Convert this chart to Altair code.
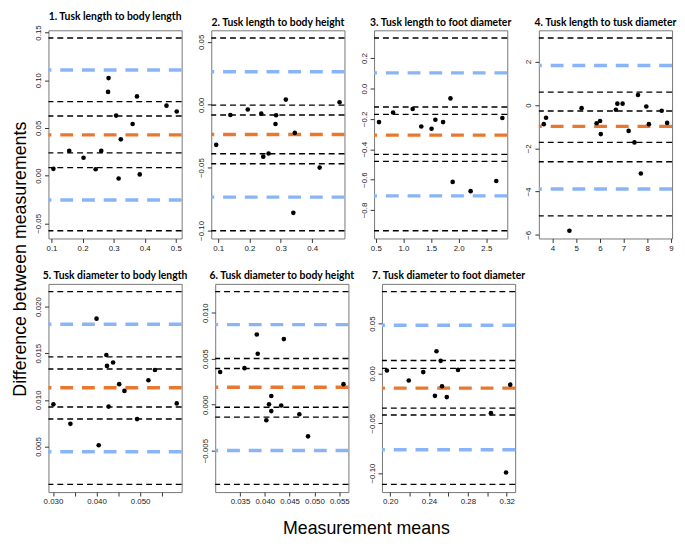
import altair as alt
import pandas as pd

# ---------------- data ----------------
titles = [
    "1. Tusk length to body length",
    "2. Tusk length to body height",
    "3. Tusk length to foot diameter",
    "4. Tusk length to tusk diameter",
    "5. Tusk diameter to body length",
    "6. Tusk diameter to body height",
    "7. Tusk diameter to foot diameter",
]

p1_x = [0.106, 0.157, 0.203, 0.242, 0.260, 0.2835, 0.282, 0.308, 0.323, 0.316, 0.361, 0.375, 0.384, 0.470, 0.503]
p1_y = [0.0071, 0.0259, 0.0188, 0.0067, 0.0259, 0.1022, 0.0877, 0.0629, 0.038, -0.003, 0.0541, 0.083, 0.0013, 0.0733, 0.0672]

p2_x = [0.0938, 0.139, 0.1946, 0.2377, 0.285, 0.283, 0.316, 0.244, 0.261, 0.3446, 0.340, 0.424, 0.4875]
p2_y = [-0.0319, -0.0082, -0.0038, -0.0071, -0.0084, -0.0153, 0.0041, -0.0413, -0.0388, -0.0224, -0.086, -0.050, 0.002]

p3_x = [0.558, 0.813, 1.167, 1.323, 1.509, 1.578, 1.717, 1.851, 1.891, 2.216, 2.68, 2.79]
p3_y = [-0.221, -0.158, -0.135, -0.2505, -0.265, -0.206, -0.221, -0.065, -0.615, -0.676, -0.609, -0.194]

p4_x = [3.635, 3.73, 5.23, 5.865, 6.01, 6.04, 6.676, 6.74, 6.96, 7.216, 7.46, 7.61, 7.73, 7.96, 8.07, 8.61, 8.84, 4.716]
p4_y = [-0.888, -0.59, -0.148, -0.843, -0.74, -1.346, -0.222, 0.059, 0.059, -1.198, -1.73, 0.459, -3.166, -0.074, -0.888, -0.266, -0.828, -5.81]

p5_x = [0.0301, 0.034, 0.040, 0.0405, 0.04225, 0.0424, 0.04277, 0.0438, 0.0452, 0.0464, 0.0493, 0.0519, 0.0534, 0.0584]
p5_y = [0.00952, 0.00743, 0.0187, 0.00513, 0.0148, 0.01364, 0.00928, 0.0140, 0.01168, 0.01096, 0.00794, 0.0121, 0.0132, 0.00962]

p6_x = [0.031, 0.0359, 0.03838, 0.03857, 0.04383, 0.0413, 0.04084, 0.0413, 0.0403, 0.0433, 0.04695, 0.0487, 0.05584]
p6_y = [0.00355, 0.00397, 0.00762, 0.00553, 0.00713, 0.00094, 0.00003, -0.0007, -0.0017, -0.0001, -0.00104, -0.00345, 0.00223]

p7_x = [0.1967, 0.2192, 0.2341, 0.2461, 0.2477, 0.252, 0.2534, 0.2583, 0.2699, 0.3037, 0.3193, 0.3236]
p7_y = [0.0029, -0.0071, 0.0013, -0.0225, 0.0222, 0.0126, -0.0129, -0.0238, 0.0035, -0.0399, -0.0995, -0.0113]

# bias (mean difference) per panel
means = [0.0427, -0.0237, -0.307, -0.99, 0.0113, 0.00188, -0.0148]
# limits of agreement [lower, upper]
loas = [[-0.0255, 0.1106], [-0.0735, 0.0263], [-0.707, 0.103], [-3.88, 1.82],
        [0.00444, 0.0181], [-0.00498, 0.0087], [-0.0766, 0.0483]]
# confidence intervals: mean CI, upper-LoA CI, lower-LoA CI (black dashed)
mean_ci = [[0.0239, 0.0625], [-0.039, -0.0082], [-0.4337, -0.1705], [-1.73, -0.28],
           [0.00924, 0.0133], [-0.00028, 0.00393], [-0.0348, 0.0051]]
upper_ci = [[0.0776, 0.1442], [-0.0003, 0.0531], [-0.122, 0.3326], [0.59, 3.09],
            [0.0146, 0.0216], [0.00501, 0.01229], [0.0129, 0.0821]]
lower_ci = [[-0.0578, 0.0084], [-0.1003, -0.0469], [-0.937, -0.48], [-5.12, -2.62],
            [0.00094, 0.00794], [-0.00867, -0.00136], [-0.1114, -0.0418]]

# axis ticks
x_ticks = [
    [0.1, 0.2, 0.3, 0.4, 0.5],
    [0.1, 0.2, 0.3, 0.4],
    [0.5, 1.0, 1.5, 2.0, 2.5],
    [4, 5, 6, 7, 8, 9],
    [0.030, 0.035, 0.040, 0.045, 0.050, 0.055],
    [0.035, 0.040, 0.045, 0.050, 0.055],
    [0.20, 0.22, 0.24, 0.26, 0.28, 0.30, 0.32],
]
x_labels_shown = [None, None, None, None, ["0.030", "0.040", "0.050"], None, ["0.20", "0.24", "0.28", "0.32"]]
x_formats = [".1f", ".1f", ".1f", "d", ".3f", ".3f", ".2f"]
y_ticks = [
    [-0.05, 0.0, 0.05, 0.10, 0.15],
    [-0.10, -0.05, 0.0, 0.05],
    [-0.8, -0.6, -0.4, -0.2, 0.0, 0.2],
    [-6, -4, -2, 0, 2],
    [0.005, 0.010, 0.015, 0.020],
    [-0.005, 0.0, 0.005, 0.010],
    [-0.10, -0.05, 0.0, 0.05],
]
y_formats = [".2f", ".2f", ".1f", "d", ".3f", ".3f", ".2f"]

xs_all = [p1_x, p2_x, p3_x, p4_x, p5_x, p6_x, p7_x]
ys_all = [p1_y, p2_y, p3_y, p4_y, p5_y, p6_y, p7_y]

BLUE = "#8AB4F8"
ORANGE = "#E8782F"
W, H = 135, 211


def padded(lo, hi):
    span = hi - lo
    return [lo - 0.04 * span, hi + 0.04 * span]


def panel(i):
    xs, ys = xs_all[i], ys_all[i]
    black_vals = mean_ci[i] + upper_ci[i] + lower_ci[i]
    all_y = ys + black_vals + loas[i] + [means[i]]
    xdom = padded(min(xs), max(xs))
    ydom = padded(min(all_y), max(all_y))

    shown = x_labels_shown[i]
    xaxis_kwargs = dict(values=x_ticks[i], format=x_formats[i], labelOverlap=False, labelFlush=False)
    if shown is not None:
        expr = "indexof([" + ",".join("'%s'" % s for s in shown) + "], datum.label) >= 0 ? datum.label : ''"
        xaxis_kwargs["labelExpr"] = expr
    xenc = alt.X("x:Q", title=None, scale=alt.Scale(domain=xdom, nice=False, zero=False),
                 axis=alt.Axis(**xaxis_kwargs))
    yaxis = alt.Axis(values=y_ticks[i], format=y_formats[i], labelAngle=270, labelAlign="center",
                     labelBaseline="bottom", labelOverlap=False, labelFlush=False)
    yscale = alt.Scale(domain=ydom, nice=False, zero=False)

    def yenc():
        return alt.Y("y:Q", title=None, scale=yscale, axis=yaxis)

    df_pts = pd.DataFrame({"x": xs, "y": ys})
    df_black = pd.DataFrame({"y": black_vals})
    df_blue = pd.DataFrame({"y": loas[i]})
    df_orange = pd.DataFrame({"y": [means[i]]})

    black = alt.Chart(df_black).mark_rule(color="black", strokeWidth=1.4, strokeDash=[6, 4]).encode(y=yenc())
    blue = alt.Chart(df_blue).mark_rule(color=BLUE, strokeWidth=3.5, strokeDash=[13, 9]).encode(y=yenc())
    orange = alt.Chart(df_orange).mark_rule(color=ORANGE, strokeWidth=3.5, strokeDash=[13, 9]).encode(y=yenc())
    pts = alt.Chart(df_pts).mark_circle(color="black", size=22, opacity=1).encode(x=xenc, y=yenc())

    return alt.layer(black, blue, orange, pts).properties(
        width=W, height=H,
        title=alt.TitleParams(titles[i], font="Lato", fontSize=10.5, fontWeight="bold",
                              anchor="middle", offset=2, color="black"),
    )


row1 = alt.hconcat(*[panel(i) for i in range(4)], spacing=12)
row2 = alt.hconcat(*[panel(i) for i in range(4, 7)], spacing=12)

grid = alt.vconcat(row1, row2, spacing=18).properties(
    title=alt.TitleParams("Difference between measurements", orient="left", anchor="middle",
                          font="Liberation Sans", fontSize=18, fontWeight="normal", offset=4, color="black")
)

chart = alt.vconcat(grid, spacing=0).properties(
    title=alt.TitleParams("Measurement means", orient="bottom", anchor="middle", dx=22,
                          font="Liberation Sans", fontSize=18, fontWeight="normal", offset=14, color="black"),
    padding={"left": 4, "top": 0, "right": 0, "bottom": 2},
).configure_view(
    stroke="#777777", strokeWidth=1
).configure_axis(
    grid=False, domain=False, labelFont="Liberation Sans", labelFontSize=8, labelColor="#222222",
    tickColor="#333333", tickSize=4, labelPadding=2
)

chart.save("out.html", embed_options={"renderer": "svg", "actions": False})
